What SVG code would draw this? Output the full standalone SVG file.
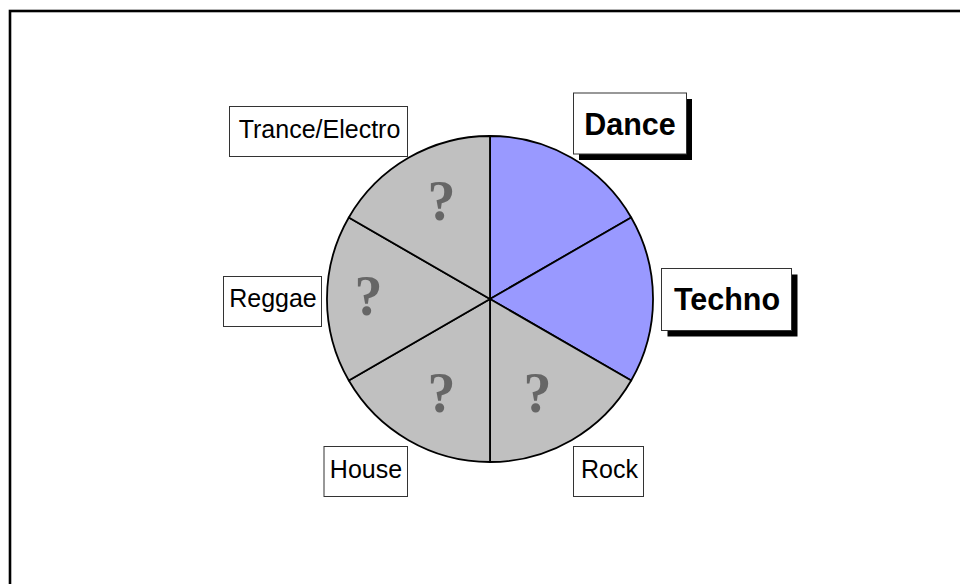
<svg xmlns="http://www.w3.org/2000/svg" width="960" height="584" viewBox="0 0 960 584">
<style>
.slice{stroke:#000;stroke-width:1.8;stroke-linejoin:round}
.gray{fill:#C0C0C0}
.blue{fill:#9999FF}
.q{font-family:"Liberation Serif","Times New Roman",serif;font-weight:bold;font-size:56px;fill:#666666;text-anchor:middle}
.box{fill:#fff;stroke:#333;stroke-width:1}
.lbl{font-family:"Liberation Sans",Arial,sans-serif;font-size:25px;fill:#000;text-anchor:middle}
.blbl{font-family:"Liberation Sans",Arial,sans-serif;font-size:30.5px;font-weight:bold;fill:#000;text-anchor:middle}
.shadow{fill:#000}
</style>
<rect x="0" y="0" width="960" height="584" fill="#fff"/>
<rect x="10" y="11" width="980" height="600" fill="none" stroke="#000" stroke-width="2.6"/>
<g id="pie">
  <g id="slice-dance"><path class="slice blue" d="M490,299 L490,136 A163,163 0 0 1 631.2,217.5 Z"/></g>
  <g id="slice-techno"><path class="slice blue" d="M490,299 L631.2,217.5 A163,163 0 0 1 631.2,380.5 Z"/></g>
  <g id="slice-rock"><path class="slice gray" d="M490,299 L631.2,380.5 A163,163 0 0 1 490,462 Z"/><text class="q" x="537.5" y="411.5">?</text></g>
  <g id="slice-house"><path class="slice gray" d="M490,299 L490,462 A163,163 0 0 1 348.8,380.5 Z"/><text class="q" x="441.5" y="411.5">?</text></g>
  <g id="slice-reggae"><path class="slice gray" d="M490,299 L348.8,380.5 A163,163 0 0 1 348.8,217.5 Z"/><text class="q" x="368.5" y="315">?</text></g>
  <g id="slice-trance"><path class="slice gray" d="M490,299 L348.8,217.5 A163,163 0 0 1 490,136 Z"/><text class="q" x="441.5" y="220">?</text></g>
</g>
<g id="label-dance">
  <rect class="shadow" x="579" y="99" width="113" height="61"/>
  <rect class="box" x="573.5" y="93" width="113" height="61"/>
  <text class="blbl" x="630" y="135">Dance</text>
</g>
<g id="label-techno">
  <rect class="shadow" x="667.5" y="274.5" width="130" height="62"/>
  <rect class="box" x="661.5" y="268.5" width="130" height="62"/>
  <text class="blbl" x="727" y="310">Techno</text>
</g>
<g id="label-trance">
  <rect class="box" x="229.5" y="106.5" width="178" height="50"/>
  <text class="lbl" x="319.5" y="138.3">Trance/Electro</text>
</g>
<g id="label-reggae">
  <rect class="box" x="223.5" y="276.5" width="98" height="50"/>
  <text class="lbl" x="273" y="307.3">Reggae</text>
</g>
<g id="label-house">
  <rect class="box" x="324" y="446.5" width="83.5" height="50"/>
  <text class="lbl" x="366" y="478.3">House</text>
</g>
<g id="label-rock">
  <rect class="box" x="573.5" y="446.5" width="70" height="50"/>
  <text class="lbl" x="609.5" y="478.3">Rock</text>
</g>
</svg>
